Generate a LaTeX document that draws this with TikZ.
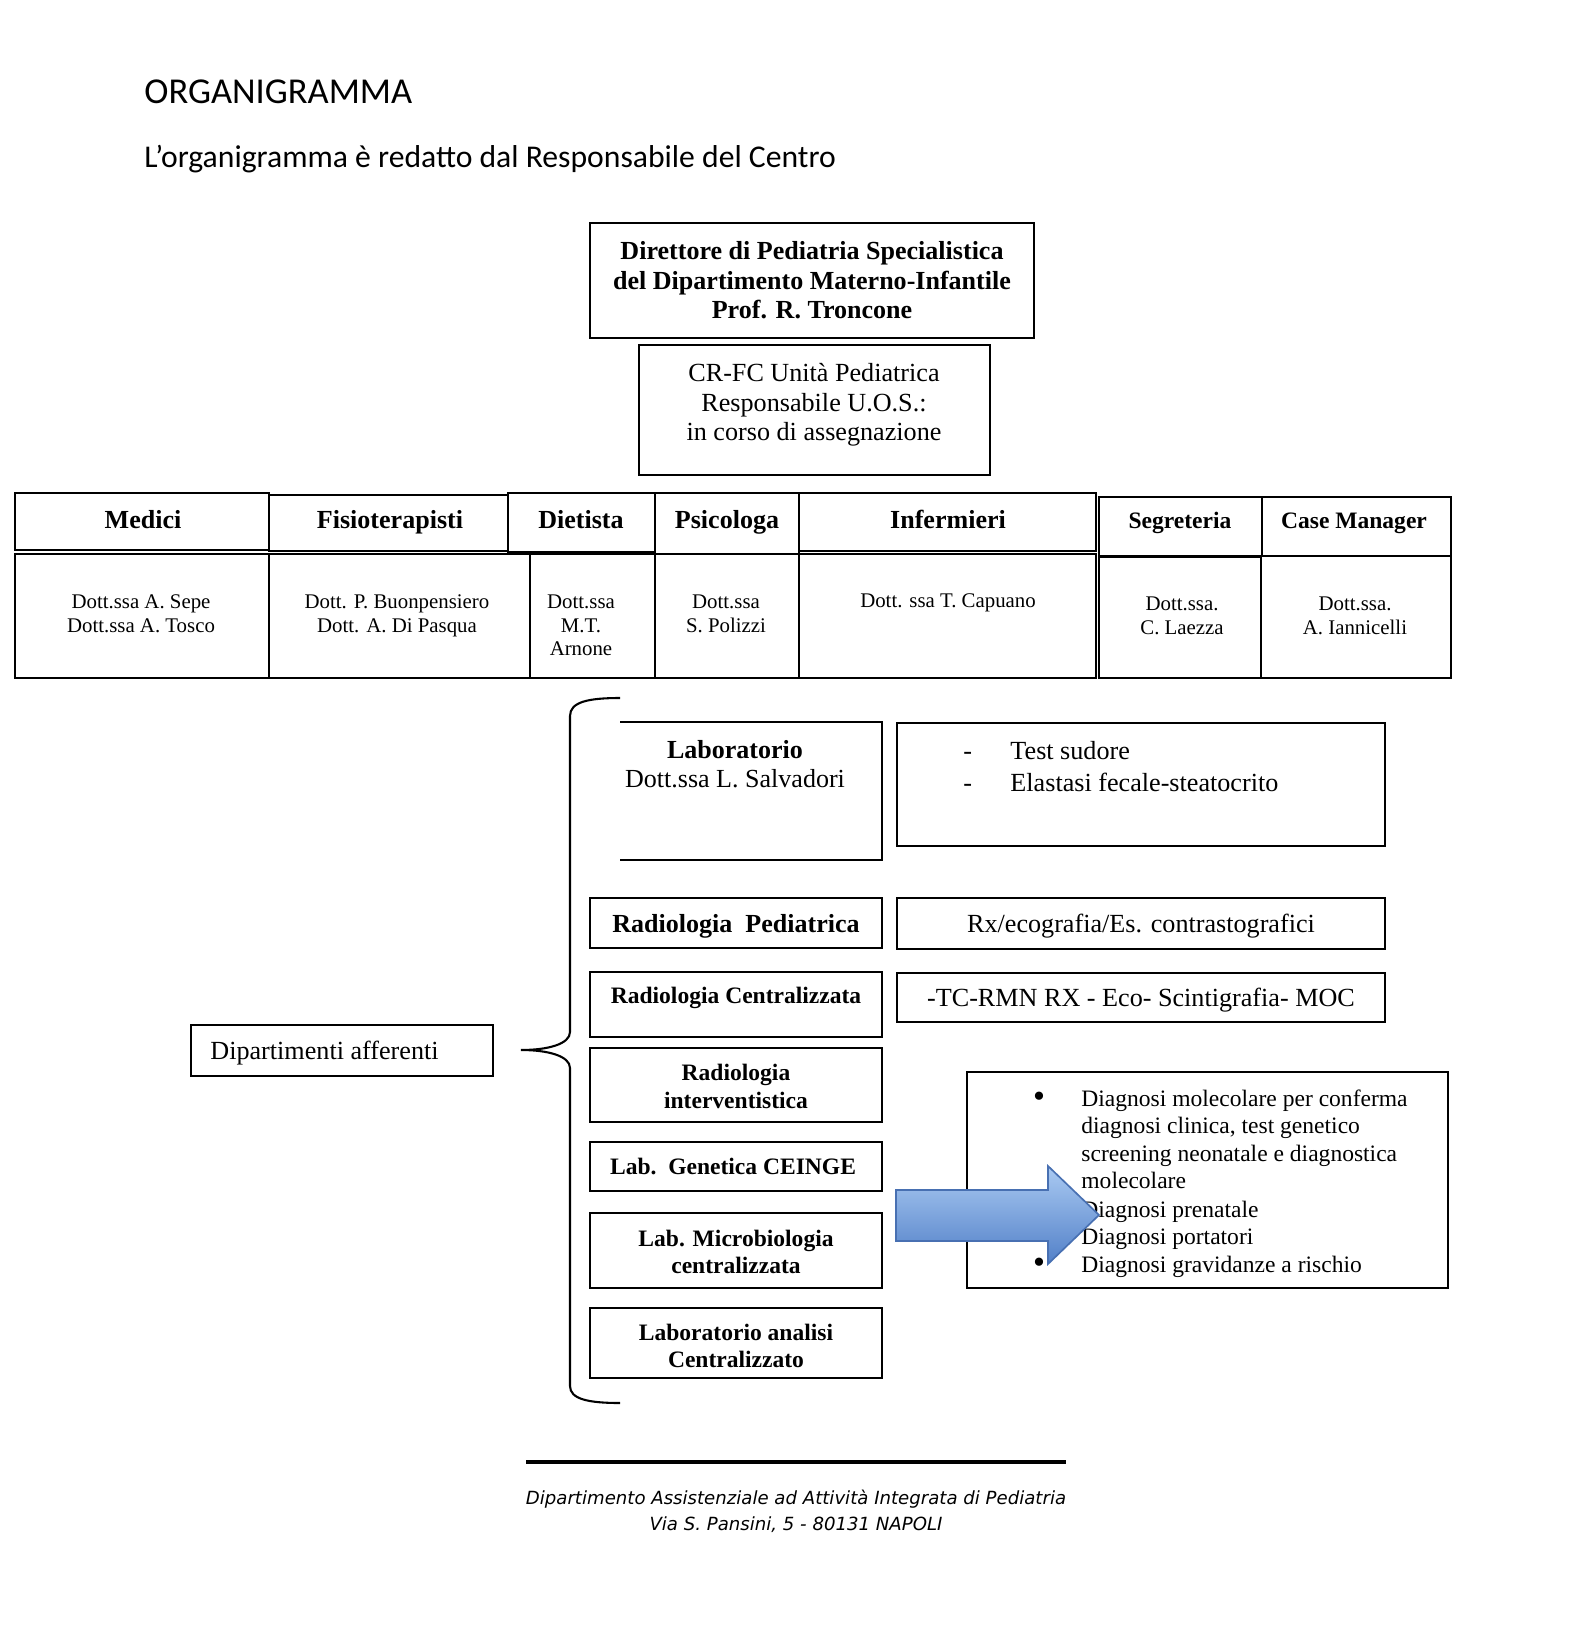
\documentclass[tikz,border=0pt]{standalone}
\usepackage{fontspec}
\setmainfont{Liberation Serif}
\newfontfamily\calibri{Carlito}
\newfontfamily\footfont{DejaVu Sans}
\usepackage{tikz}
\usetikzlibrary{fit}
\definecolor{arrtop}{RGB}{170,202,242}
\definecolor{arrbot}{RGB}{82,128,200}
\definecolor{arrline}{RGB}{72,112,178}
\tikzset{box/.style = {draw, line width=0.9pt, inner sep=0pt}}
\tikzset{txt/.style = {inner sep=0pt, align=center}}
\tikzset{bf12/.style = {font=\bfseries\fontsize{12.5}{14.2}\selectfont}}
\tikzset{bf11/.style = {font=\bfseries\fontsize{11.3}{13.2}\selectfont}}
\tikzset{rm12/.style = {font=\fontsize{12.55}{14.2}\selectfont}}
\tikzset{rm11/.style = {font=\fontsize{11.3}{13.2}\selectfont}}
\tikzset{rm10/.style = {font=\fontsize{10}{11.5}\selectfont}}
\newcommand\bul{\llap{\raisebox{-0.7pt}{\scalebox{1.45}{\textbullet}}\hspace{17.4pt}}}
\newcommand\trattino{\makebox[22.6pt][l]{-}}

\begin{document}
\begin{tikzpicture}[x=0.48pt, y=-0.48pt]
\fill[white] (0,0) rectangle (1586,1630);

\node[anchor=base west, inner sep=0pt, font=\calibri\fontsize{17.5}{21}\selectfont] (title) at (144,103) {ORGANIGRAMMA};
\node[anchor=base west, inner sep=0pt, font=\calibri\fontsize{15.2}{18}\selectfont] (subtitle) at (144,167) {L’organigramma è redatto dal Responsabile del Centro};

\node[box, fit={(590,223) (1034,338)}] (director) {};
\node[txt, bf12, anchor=north] (directortxt) at (812,241) {Direttore di Pediatria Specialistica\\del Dipartimento Materno-Infantile\\Prof. R. Troncone};

\node[box, fit={(639,345) (990,475)}] (crfc) {};
\node[txt, rm12, anchor=north] (crfctxt) at (814,363) {CR-FC Unità Pediatrica\\Responsabile U.O.S.:\\in corso di assegnazione};

\node[box, fit={(15,493) (269,550)}] (medici) {};
\node[box, fit={(269,495) (508,551)}] (fisio) {};
\node[box, fit={(508,493) (655,552)}] (dietista) {};
\node[box, fit={(655,493) (799,554)}] (psicologa) {};
\node[box, fit={(799,493) (1096,551)}] (infermieri) {};
\node[box, fit={(1099,497) (1262,556)}] (segreteria) {};
\node[box, fit={(1262,497) (1451,556)}] (casemanager) {};

\node[txt, bf12, anchor=base] (medicitxt) at (143,528) {Medici};
\node[txt, bf12, anchor=base] (fisiotxt) at (390,528) {Fisioterapisti};
\node[txt, bf12, anchor=base] (dietistatxt) at (581,528) {Dietista};
\node[txt, bf12, anchor=base] (psicologatxt) at (727,528) {Psicologa};
\node[txt, bf12, anchor=base] (infermieritxt) at (948,528) {Infermieri};
\node[txt, bf11, anchor=base] (segreteriatxt) at (1180,528) {Segreteria};
\node[txt, bf11, anchor=base] (casemanagertxt) at (1354,528) {Case Manager};

\node[box, fit={(15,554) (269,678)}] (medicibody) {};
\node[box, fit={(269,554) (530,678)}] (fisiobody) {};
\node[box, fit={(530,554) (655,678)}] (dietistabody) {};
\node[box, fit={(655,554) (799,678)}] (psicologabody) {};
\node[box, fit={(799,554) (1096,678)}] (infermieribody) {};
\node[box, fit={(1099,557) (1261,678)}] (segreteriabody) {};
\node[box, fit={(1261,556) (1451,678)}] (casemanagerbody) {};

\node[txt, rm10, anchor=north] (medicinames) at (141,594) {Dott.ssa A. Sepe\\Dott.ssa A. Tosco};
\node[txt, rm10, anchor=north] (fisionames) at (397,594) {Dott. P. Buonpensiero\\Dott. A. Di Pasqua};
\node[txt, rm10, anchor=north] (dietistanames) at (581,594) {Dott.ssa\\M.T.\\Arnone};
\node[txt, rm10, anchor=north] (psicologanames) at (726,594) {Dott.ssa\\S. Polizzi};
\node[txt, rm10, anchor=north] (infermierinames) at (948,593) {Dott. ssa T. Capuano};
\node[txt, rm10, anchor=north] (segreterianames) at (1182,596) {Dott.ssa.\\C. Laezza};
\node[txt, rm10, anchor=north] (casemanagernames) at (1355,596) {Dott.ssa.\\A. Iannicelli};

\node[box, fit={(191,1025) (493,1076)}] (afferenti) {};
\node[txt, rm12, anchor=base west] (afferentitxt) at (210,1059) {Dipartimenti afferenti};

\coordinate (tip) at (521,1050);
\draw[line width=1pt] (620,698) .. controls (588,698) and (570,702) .. (570,716) -- (570,1032)
  .. controls (570,1044) and (548,1050) .. (tip) .. controls (548,1050) and (570,1056) .. (570,1068)
  -- (570,1386) .. controls (570,1399) and (588,1403) .. (620,1403);

\draw[line width=0.9pt] (620,722) -- (882,722) -- (882,860) -- (620,860);
\node[txt, anchor=north, font=\fontsize{12.5}{14}\selectfont] (labtxt) at (735,740) {\textbf{Laboratorio}\\Dott.ssa L. Salvadori};

\node[box, fit={(590,898) (882,948)}] (radped) {};
\node[txt, bf12, anchor=base] (radpedtxt) at (736,932) {Radiologia~~Pediatrica};
\node[box, fit={(590,972) (882,1037)}] (radcen) {};
\node[txt, bf11, anchor=base] (radcentxt) at (736,1003) {Radiologia Centralizzata};
\node[box, fit={(590,1048) (882,1122)}] (radint) {};
\node[txt, anchor=north, font=\bfseries\fontsize{11.3}{13.4}\selectfont] (radinttxt) at (736,1064) {Radiologia\\interventistica};
\node[box, fit={(590,1142) (882,1191)}] (genetica) {};
\node[txt, bf11, anchor=base] (geneticatxt) at (733,1174) {Lab.~~Genetica CEINGE};
\node[box, fit={(590,1213) (882,1288)}] (micro) {};
\node[txt, anchor=north, font=\bfseries\fontsize{11.3}{13}\selectfont] (microtxt) at (736,1230) {Lab. Microbiologia\\centralizzata};
\node[box, fit={(590,1308) (882,1378)}] (analisi) {};
\node[txt, anchor=north, font=\bfseries\fontsize{11.3}{13}\selectfont] (analisitxt) at (736,1324) {Laboratorio analisi\\Centralizzato};

\node[box, fit={(897,723) (1385,846)}] (test) {};
\node[txt, anchor=north west, align=left, font=\fontsize{12.55}{15.4}\selectfont] (testtxt) at (963,741) {\trattino Test sudore\\\trattino Elastasi fecale-steatocrito};
\node[box, fit={(897,898) (1385,949)}] (rx) {};
\node[txt, rm12, anchor=base] (rxtxt) at (1141,932) {Rx/ecografia/Es. contrastografici};
\node[box, fit={(897,973) (1385,1022)}] (tc) {};
\node[txt, rm12, anchor=base] (tctxt) at (1141,1006) {-TC-RMN RX - Eco- Scintigrafia- MOC};

\node[box, fit={(967,1072) (1448,1288)}] (diagnosi) {};
\node[txt, rm11, anchor=north west, align=left] (diagnositxt) at (1081,1089) {\bul Diagnosi molecolare per conferma\\diagnosi clinica, test genetico\\screening neonatale e diagnostica\\molecolare\\[0.5pt]\bul Diagnosi prenatale\\\bul Diagnosi portatori\\\bul Diagnosi gravidanze a rischio};

\draw[arrline, line width=0.8pt, top color=arrtop, bottom color=arrbot] (896,1190) -- (1048,1190) -- (1048,1166) -- (1099,1215) -- (1048,1264) -- (1048,1241) -- (896,1241) -- cycle;

\draw[line width=1.7pt] (526,1462) -- (1066,1462);
\node[txt, anchor=north, font=\footfont\itshape\fontsize{8.7}{12.5}\selectfont] (footer) at (796,1490) {Dipartimento Assistenziale ad Attività Integrata di Pediatria\\Via S. Pansini, 5 - 80131 NAPOLI};
\end{tikzpicture}
\end{document}
